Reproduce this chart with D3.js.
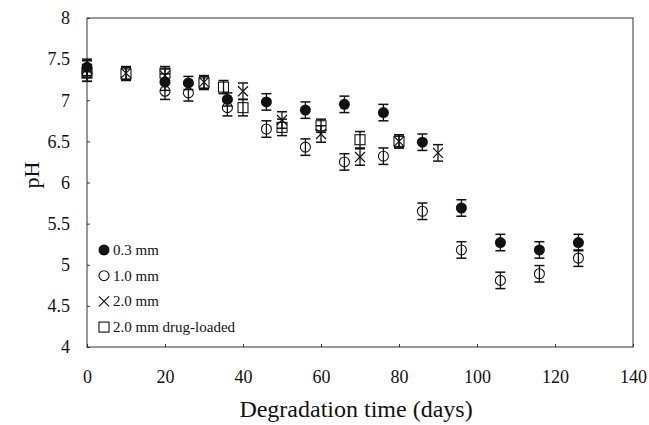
<!DOCTYPE html>
<html>
<head>
<meta charset="utf-8">
<script src="https://cdn.jsdelivr.net/npm/d3@7"></script>
<style>
  body { margin: 0; background: #fff; }
  text { font-family: "Liberation Serif", "Times New Roman", serif; fill: #111; }
</style>
</head>
<body>
<svg id="chart" width="649" height="425"></svg>
<script>
// data
const days03 = [0, 20, 26, 36, 46, 56, 66, 76, 86, 96, 106, 116, 126];
const ph03 = [7.40, 7.22, 7.21, 7.01, 6.98, 6.88, 6.95, 6.85, 6.49, 5.69, 5.27, 5.18, 5.27];
const err03 = [0.1, 0.1, 0.08, 0.08, 0.1, 0.1, 0.1, 0.1, 0.1, 0.1, 0.1, 0.1, 0.1];

const days10 = [0, 20, 26, 36, 46, 56, 66, 76, 86, 96, 106, 116, 126];
const ph10 = [7.33, 7.11, 7.09, 6.91, 6.65, 6.43, 6.25, 6.32, 5.65, 5.18, 4.81, 4.89, 5.08];
const err10 = [0.1, 0.1, 0.1, 0.1, 0.1, 0.1, 0.1, 0.1, 0.1, 0.1, 0.1, 0.1, 0.1];

const days20 = [0, 10, 20, 30, 40, 50, 60, 70, 80, 90];
const ph20 = [7.38, 7.33, 7.30, 7.22, 7.11, 6.76, 6.59, 6.31, 6.50, 6.36];
const err20 = [0.1, 0.08, 0.08, 0.08, 0.1, 0.1, 0.1, 0.1, 0.08, 0.1];

const days20d = [0, 10, 20, 30, 35, 40, 50, 60, 70, 80];
const ph20d = [7.33, 7.32, 7.33, 7.21, 7.16, 6.91, 6.67, 6.69, 6.52, 6.50];
const err20d = [0.1, 0.08, 0.08, 0.08, 0.08, 0.1, 0.1, 0.08, 0.1, 0.08];

const xTicks = [0, 20, 40, 60, 80, 100, 120, 140];
const yTicks = [4, 4.5, 5, 5.5, 6, 6.5, 7, 7.5, 8];

const legendLabels = ["0.3 mm", "1.0 mm", "2.0 mm", "2.0 mm drug-loaded"];

const svg = d3.select("#chart");
const plotLeft = 87, plotRight = 633, plotTop = 18, plotBottom = 347;

const x = d3.scaleLinear().domain([0, 140]).range([plotLeft, plotRight]);
const y = d3.scaleLinear().domain([4, 8]).range([plotBottom, plotTop]);

// frame
svg.append("rect")
  .attr("x", plotLeft).attr("y", plotTop)
  .attr("width", plotRight - plotLeft).attr("height", plotBottom - plotTop)
  .attr("fill", "none").attr("stroke", "#333").attr("stroke-width", 1);

// axes
const xAxis = svg.append("g").attr("transform", "translate(0," + plotBottom + ")")
  .call(d3.axisBottom(x).tickValues(xTicks).tickSize(-3).tickPadding(23).tickFormat(d3.format("d")));
const yAxis = svg.append("g").attr("transform", "translate(" + plotLeft + ",0)")
  .call(d3.axisLeft(y).tickValues(yTicks).tickSize(-3).tickPadding(17).tickFormat(d => d));
[xAxis, yAxis].forEach(g => {
  g.select(".domain").remove();
  g.selectAll(".tick line").attr("stroke", "#333");
  g.selectAll(".tick text").attr("font-size", 18).attr("font-family", "Liberation Serif").attr("fill", "#111");
});

// axis titles
svg.append("text")
  .attr("x", 356).attr("y", 417)
  .attr("text-anchor", "middle").attr("font-size", 24)
  .attr("font-family", "Liberation Serif")
  .text("Degradation time (days)");
svg.append("text")
  .attr("transform", "translate(39,175) rotate(-90)")
  .attr("text-anchor", "middle").attr("font-size", 22)
  .attr("font-family", "Liberation Serif")
  .text("pH");

function makeRows(days, ph, err) {
  return days.map((d, i) => ({ d: d, v: ph[i], e: err[i] }));
}

const series = [
  { rows: makeRows(days03, ph03, err03), shape: "filled" },
  { rows: makeRows(days10, ph10, err10), shape: "open" },
  { rows: makeRows(days20, ph20, err20), shape: "cross" },
  { rows: makeRows(days20d, ph20d, err20d), shape: "square" }
];

function drawMarker(g, shape, cx, cy) {
  if (shape === "filled") {
    g.append("circle").attr("cx", cx).attr("cy", cy).attr("r", 5.5).attr("fill", "#111");
  } else if (shape === "open") {
    g.append("circle").attr("cx", cx).attr("cy", cy).attr("r", 5).attr("fill", "none")
      .attr("stroke", "#111").attr("stroke-width", 1.1);
  } else if (shape === "cross") {
    const s = 5;
    g.append("path")
      .attr("d", "M" + (cx - s) + "," + (cy - s) + "L" + (cx + s) + "," + (cy + s) +
        "M" + (cx - s) + "," + (cy + s) + "L" + (cx + s) + "," + (cy - s))
      .attr("stroke", "#111").attr("stroke-width", 1.2).attr("fill", "none");
  } else {
    g.append("rect").attr("x", cx - 5).attr("y", cy - 5).attr("width", 10).attr("height", 10)
      .attr("fill", "none").attr("stroke", "#111").attr("stroke-width", 1.1);
  }
}

// error bars + markers
series.forEach(s => {
  const g = svg.append("g");
  s.rows.forEach(r => {
    const cx = x(r.d);
    g.append("line")
      .attr("x1", cx).attr("x2", cx)
      .attr("y1", y(r.v - r.e)).attr("y2", y(r.v + r.e))
      .attr("stroke", "#111").attr("stroke-width", 1.3);
    [r.v - r.e, r.v + r.e].forEach(v => {
      g.append("line")
        .attr("x1", cx - 5).attr("x2", cx + 5)
        .attr("y1", y(v)).attr("y2", y(v))
        .attr("stroke", "#111").attr("stroke-width", 1.5);
    });
    drawMarker(g, s.shape, cx, y(r.v));
  });
});

// legend
const legend = svg.append("g");
legendLabels.forEach((lab, i) => {
  const ly = 250 + i * 25.7;
  const g = legend.append("g");
  drawMarker(g, series[i].shape, 104, ly);
  g.append("text")
    .attr("x", 113).attr("y", ly + 5)
    .attr("font-size", 15)
    .attr("font-family", "Liberation Serif")
    .text(lab);
});
</script>
</body>
</html>
